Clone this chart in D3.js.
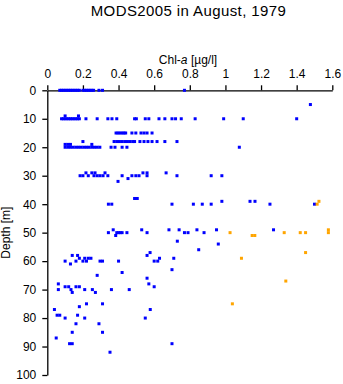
<!DOCTYPE html>
<html><head><meta charset="utf-8">
<script src="https://cdn.jsdelivr.net/npm/d3@7/dist/d3.min.js"></script>
<style>
body{margin:0;background:#fff;}
text{font-family:"Liberation Sans",Arial,Helvetica,sans-serif;fill:#000;}
</style></head>
<body><svg id="c" width="343" height="384"></svg>
<script>
const title = "MODS2005 in August, 1979";
const xLabel = "Chl-";
const yLabel = "Depth [m]";
const xTicks = [0, 0.2, 0.4, 0.6, 0.8, 1, 1.2, 1.4, 1.6];
const yTicks = [0, 10, 20, 30, 40, 50, 60, 70, 80, 90, 100];
const seriesColors = ["#0000ff", "#ffa500"];

// [Chl-a, depth]
const blue = [
 [0.07,0],[0.08,0],[0.09,0],[0.10,0],[0.11,0],[0.12,0],[0.13,0],[0.14,0],[0.15,0],[0.16,0],[0.17,0],[0.18,0],
 [0.20,0],[0.21,0],[0.22,0],[0.23,0],[0.24,0],[0.25,0],[0.26,0],[0.29,0],[0.31,0],[0.77,0],
 [1.477,5],
 [0.10,9],[0.175,9],
 [0.08,10],[0.09,10],[0.10,10],[0.11,10],[0.12,10],[0.13,10],[0.14,10],[0.15,10],[0.16,10],[0.17,10],[0.18,10],
 [0.217,10],[0.28,10],[0.34,10],[0.363,10],[0.39,10],[0.49,10],[0.50,10],[0.55,10],[0.57,10],[0.627,10],[0.66,10],
 [0.70,10],[0.72,10],[0.752,10],[0.83,10],[0.99,10],[1.10,10],[1.40,10],
 [0.386,15],[0.397,15],[0.408,15],[0.42,15],[0.43,15],[0.44,15],[0.475,15],[0.497,15],[0.526,15],[0.543,15],[0.56,15],[0.588,15],
 [0.2,18],[0.375,18],[0.39,18],[0.405,18],[0.42,18],[0.435,18],[0.45,18],[0.465,18],[0.48,18],[0.49,18],
 [0.52,18],[0.543,18],[0.565,18],[0.588,18],[0.616,18],[0.66,18],[0.728,18],
 [0.10,19],[0.115,19],[0.13,19],[0.25,19],
 [0.10,20],[0.115,20],[0.13,20],[0.145,20],[0.16,20],[0.175,20],[0.19,20],[0.205,20],[0.22,20],[0.235,20],[0.25,20],
 [0.265,20],[0.28,20],[0.295,20],[0.358,20],[0.38,20],[0.42,20],[0.447,20],[1.078,20],
 [0.217,29],[0.25,29],[0.268,29],[0.324,29],[0.537,29],[0.56,29],[0.667,29],
 [0.184,30],[0.2,30],[0.23,30],[0.262,30],[0.28,30],[0.296,30],[0.313,30],[0.34,30],[0.42,30],[0.475,30],[0.497,30],
 [0.515,30],[0.56,30],[0.728,30],[0.92,30],[0.98,30],
 [0.453,31],[0.397,32],
 [0.49,38],[0.505,38],
 [0.98,39],[1.138,39],[1.166,39],
 [0.343,40],[0.362,40],[0.70,40],[0.82,40],[0.87,40],[0.92,40],[1.25,40],[1.50,40],
 [0.37,49],[0.53,49],[0.683,49],[0.74,49],[0.84,49],[0.95,49],[1.27,49],
 [0.343,50],[0.39,50],[0.40,50],[0.41,50],[0.42,50],[0.447,50],[0.56,50],[0.77,50],[0.79,50],[0.88,50],
 [0.384,51],[0.73,53],[0.96,54],[0.85,56],[0.577,57],
 [0.56,58],[0.14,58],[0.17,58],
 [0.18,59],[0.21,59],[0.23,59],[0.245,59],[0.63,59],[0.71,59],
 [0.10,60],[0.161,60],[0.20,60],[0.22,60],[0.296,60],[0.31,60],[0.40,60],[0.60,60],[0.62,60],
 [0.13,61],[0.70,63],[0.42,64],[0.28,65],[0.56,66],
 [0.062,68],[0.57,68],
 [0.10,69],[0.12,69],[0.161,69],[0.18,69],[0.60,69],
 [0.062,70],[0.133,70],[0.21,70],[0.253,70],[0.36,70],[0.46,70],
 [0.14,71],[0.27,71],
 [0.22,75],[0.31,75],[0.18,76],[0.04,77],[0.578,77],
 [0.055,79],[0.07,79],[0.17,79],
 [0.10,80],[0.21,80],[0.55,80],
 [0.161,82],[0.29,82],[0.14,85],[0.31,85],[0.05,87],
 [0.125,89],[0.14,89],[0.70,89],[0.352,92]
];
const orange = [
 [1.525,39],[1.515,40],[1.578,49],
 [1.026,50],[1.33,50],[1.42,50],[1.45,50],[1.578,50],
 [1.15,51],[1.165,51],[1.45,57],[1.09,59],[1.339,67],[1.039,75]
];

const svg = d3.select("#c");
const x = d3.scaleLinear().domain([0, 1.6]).range([47.3, 332.3]);
const y = d3.scaleLinear().domain([0, 100]).range([90.3, 375]);

const xAxis = svg.append("g").attr("transform", `translate(0,${y(0)})`)
  .call(d3.axisTop(x).tickValues(xTicks).tickSize(5).tickPadding(7).tickSizeOuter(0).tickFormat(d3.format("")));
const yAxis = svg.append("g").attr("transform", `translate(${x(0)},0)`)
  .call(d3.axisLeft(y).tickValues(yTicks).tickSize(5).tickPadding(6).tickSizeOuter(0));
[xAxis, yAxis].forEach(g => {
  g.select(".domain").attr("stroke", "#000").attr("stroke-width", 1.3);
  g.selectAll(".tick line").attr("stroke", "#000").attr("stroke-width", 1.3);
  g.selectAll(".tick text").attr("font-size", 12).attr("font-family", "Liberation Sans, Arial, sans-serif").attr("fill", "#000");
});

svg.append("text").attr("x", 188.5).attr("y", 16).attr("text-anchor", "middle")
  .attr("font-size", 15).attr("letter-spacing", "0.4px").text(title);

const xl = svg.append("text").attr("x", 188).attr("y", 64).attr("text-anchor", "middle").attr("font-size", 12);
xl.append("tspan").text(xLabel);
xl.append("tspan").attr("font-style", "italic").text("a");
xl.append("tspan").text(" [µg/l]");

svg.append("text").attr("transform", `translate(10,${(y(0)+y(100))/2}) rotate(-90)`)
  .attr("text-anchor", "middle").attr("font-size", 12).text(yLabel);

function drawSeries(data, color) {
  svg.append("g").selectAll("rect").data(data).join("rect")
    .attr("x", d => x(d[0]) - 1.5).attr("y", d => y(d[1]) - 1.5)
    .attr("width", 3).attr("height", 3).attr("fill", color);
}
drawSeries(blue, seriesColors[0]);
drawSeries(orange, seriesColors[1]);
</script></body></html>
